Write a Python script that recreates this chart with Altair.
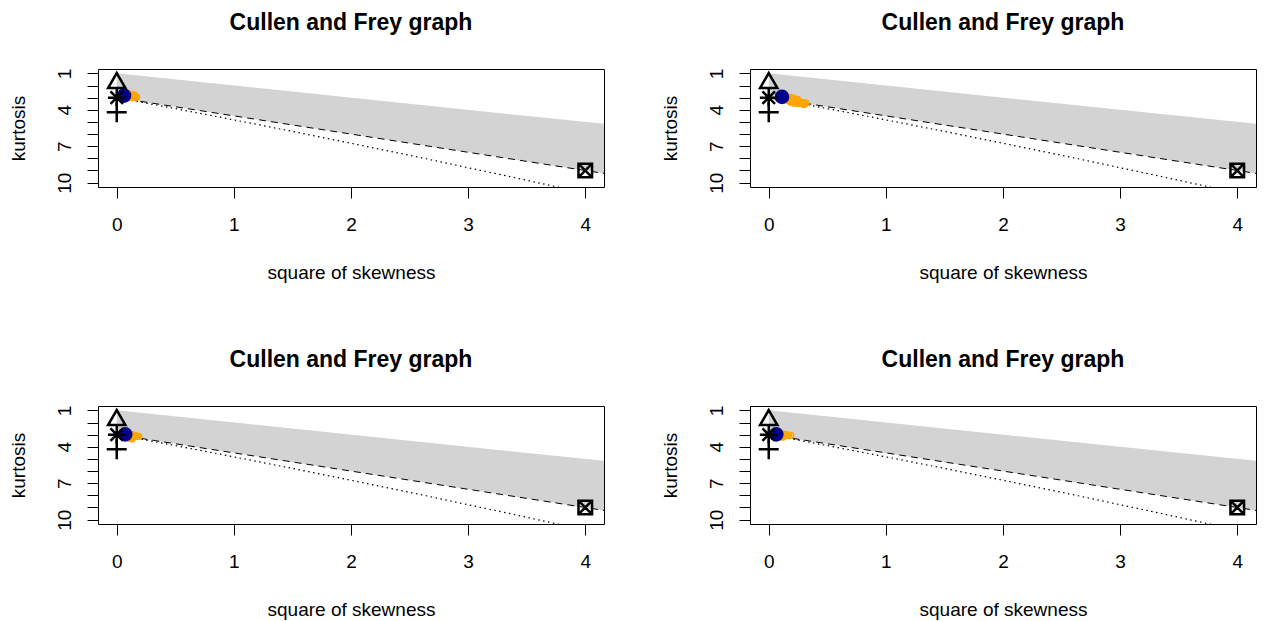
import altair as alt
import pandas as pd

TITLE = "Cullen and Frey graph"
X_TITLE = "square of skewness"
Y_TITLE = "kurtosis"
FONT = "Liberation Sans"

x_ticks = [0, 1, 2, 3, 4]
y_ticks = [1, 2, 3, 4, 5, 6, 7, 8, 9, 10]
y_tick_labels = [1, 4, 7, 10]
x_domain = [-0.16, 4.16]
y_domain = [0.64, 10.36]

# beta region (square of skewness, kurtosis limits)
beta_s2 = [0.0, 4.16]
beta_upper = [1.0, 5.16]
beta_lower = [3.0, 9.24]

# gamma line
gamma_s2 = [0.0, 4.16]
gamma_k = [3.0, 9.24]

# lognormal line
lnorm_s2 = [0.0, 0.465, 0.961, 1.488, 2.048, 2.641, 3.267, 3.793]
lnorm_k = [3.0, 3.838, 4.756, 5.758, 6.850, 8.035, 9.320, 10.423]

# theoretical distributions
theo_names = ["normal", "uniform", "exponential", "logistic"]
theo_s2 = [0.0, 0.0, 4.0, 0.0]
theo_k = [3.0, 1.8, 9.0, 4.2]
theo_paths = [
    "M-0.886,0L0.886,0M0,-0.886L0,0.886M-0.627,-0.627L0.627,0.627M-0.627,0.627L0.627,-0.627",
    "M0,-1L0.866,0.5L-0.866,0.5Z",
    "M-0.68,-0.68L0.68,-0.68L0.68,0.68L-0.68,0.68ZM-0.68,-0.68L0.68,0.68M-0.68,0.68L0.68,-0.68",
    "M-1,0L1,0M0,-1L0,1",
]

# observations (one per panel)
obs_s2 = [0.062, 0.113, 0.072, 0.064]
obs_k = [2.83, 2.94, 2.98, 2.98]

# bootstrapped values, per panel
boot1_s2 = [0.09, 0.11, 0.12, 0.13, 0.14, 0.15, 0.16, 0.17, 0.12, 0.14, 0.16, 0.10, 0.13, 0.15, 0.11]
boot1_k = [2.78, 2.80, 2.72, 2.78, 2.84, 2.88, 2.92, 2.95, 2.95, 3.00, 3.02, 3.02, 2.88, 2.76, 2.88]

boot2_s2 = [0.15, 0.17, 0.19, 0.21, 0.23, 0.25, 0.18, 0.20, 0.22, 0.24, 0.26, 0.19, 0.21, 0.23,
            0.27, 0.28, 0.29, 0.30, 0.31, 0.32, 0.30, 0.25, 0.16, 0.20]
boot2_k = [2.95, 3.00, 2.98, 3.05, 3.10, 3.15, 3.20, 3.25, 3.30, 3.30, 3.35, 3.40, 3.45, 3.45,
           3.40, 3.45, 3.50, 3.40, 3.50, 3.45, 3.58, 3.50, 3.25, 3.38]

boot3_s2 = [0.11, 0.12, 0.13, 0.14, 0.15, 0.16, 0.17, 0.18, 0.19, 0.12, 0.13, 0.14, 0.15, 0.16, 0.11, 0.13]
boot3_k = [3.00, 2.98, 3.02, 3.05, 3.08, 3.10, 3.12, 3.14, 3.15, 3.22, 3.28, 3.22, 3.18, 3.16, 3.32, 3.36]

boot4_s2 = [0.11, 0.12, 0.13, 0.14, 0.15, 0.16, 0.17, 0.19, 0.12, 0.13, 0.14, 0.11, 0.12]
boot4_k = [2.92, 2.95, 2.97, 3.00, 3.02, 3.03, 3.05, 3.06, 3.12, 3.15, 3.10, 3.20, 3.22]

boot_s2 = [boot1_s2, boot2_s2, boot3_s2, boot4_s2]
boot_k = [boot1_k, boot2_k, boot3_k, boot4_k]

xs = alt.Scale(domain=x_domain, nice=False, zero=False)
ys = alt.Scale(domain=y_domain, nice=False, zero=False, reverse=True)

label_expr = "indexof([" + ",".join(str(v) for v in y_tick_labels) + "], datum.value) >= 0 ? datum.label : ''"

x_axis = alt.Axis(
    values=x_ticks, title=X_TITLE, grid=False, domain=False,
    tickSize=11, tickColor="black", tickWidth=1,
    labelPadding=32, labelBaseline="alphabetic", labelFontSize=19, labelColor="black",
    labelFlush=False, labelOverlap=False, labelFont=FONT, format="d",
    titleFontSize=19, titleFontWeight="normal", titleColor="black", titleFont=FONT,
    titleY=91, titleBaseline="alphabetic",
)
y_axis = alt.Axis(
    values=y_ticks, title=Y_TITLE, grid=False, domain=False,
    tickSize=11, tickColor="black", tickWidth=1,
    labelAngle=270, labelAlign="center", labelBaseline="alphabetic", labelPadding=17,
    labelFontSize=19, labelColor="black", labelFlush=False, labelOverlap=False,
    labelFont=FONT, labelExpr=label_expr,
    titleFontSize=19, titleFontWeight="normal", titleColor="black", titleFont=FONT,
    titleAngle=270, titleX=-74, titleBaseline="alphabetic", titleAlign="center",
)


def panel(i):
    beta_df = pd.DataFrame({"s2": beta_s2, "upper": beta_upper, "lower": beta_lower})
    gamma_df = pd.DataFrame({"s2": gamma_s2, "k": gamma_k})
    lnorm_df = pd.DataFrame({"s2": lnorm_s2, "k": lnorm_k})
    theo_df = pd.DataFrame({"s2": theo_s2, "k": theo_k, "name": theo_names})
    obs_df = pd.DataFrame({"s2": [obs_s2[i]], "k": [obs_k[i]]})
    boot_df = pd.DataFrame({"s2": boot_s2[i], "k": boot_k[i]})

    X = lambda f: alt.X(f, type="quantitative", scale=xs, axis=x_axis)
    Y = lambda f: alt.Y(f, type="quantitative", scale=ys, axis=y_axis)

    area = alt.Chart(beta_df).mark_area(color="#d3d3d3", opacity=1, clip=True).encode(
        x=X("s2"), y=Y("upper"), y2="lower"
    )
    gamma = alt.Chart(gamma_df).mark_line(
        color="black", strokeWidth=1, strokeDash=[7, 5], clip=True
    ).encode(x=X("s2"), y=Y("k"))
    lnorm = alt.Chart(lnorm_df).mark_line(
        color="black", strokeWidth=1.2, strokeDash=[1.5, 3.5], clip=True
    ).encode(x=X("s2"), y=Y("k"))
    boot = alt.Chart(boot_df).mark_point(
        shape="circle", filled=False, color="#FFA500", size=30, strokeWidth=1.6, opacity=1
    ).encode(x=X("s2"), y=Y("k"))
    obs = alt.Chart(obs_df).mark_point(
        shape="circle", filled=True, color="#00008B", size=215, opacity=1
    ).encode(x=X("s2"), y=Y("k"))
    theo = alt.Chart(theo_df).mark_point(
        filled=False, color="black", size=400, strokeWidth=2.5, opacity=1
    ).encode(
        x=X("s2"), y=Y("k"),
        shape=alt.Shape("name:N", scale=alt.Scale(domain=theo_names, range=theo_paths), legend=None),
    )
    return alt.layer(area, gamma, lnorm, boot, obs, theo).properties(
        width=506, height=118,
        title=alt.TitleParams(
            TITLE, fontSize=23, fontWeight="bold", font=FONT, color="black",
            anchor="middle", frame="group", offset=15, baseline="alphabetic",
        ),
    )


top = alt.hconcat(panel(0), panel(1), spacing=55)
bottom = alt.hconcat(panel(2), panel(3), spacing=55)
chart = alt.vconcat(top, bottom, spacing=65).properties(
    padding={"left": 0, "top": 3, "right": 0, "bottom": 0}
).configure(font=FONT).configure_view(stroke="black", strokeWidth=1)

chart.save("out.html", embed_options={"renderer": "svg", "actions": False})
